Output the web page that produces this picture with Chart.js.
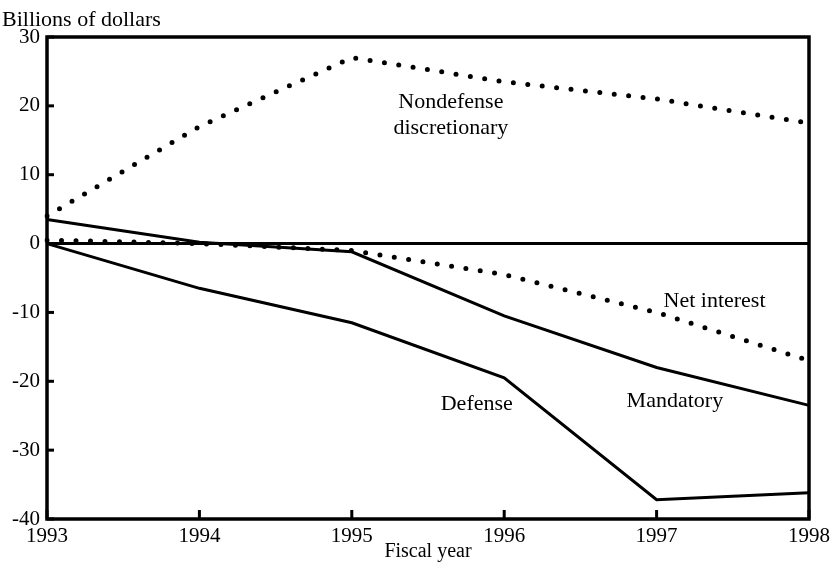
<!DOCTYPE html>
<html>
<head>
<meta charset="utf-8">
<script src="https://cdn.jsdelivr.net/npm/chart.js@4.4.1/dist/chart.umd.min.js"></script>
<style>
  html, body { margin: 0; padding: 0; background: #fff; }
  #wrap { width: 835px; height: 564px; }
</style>
</head>
<body>
<div id="wrap"><canvas id="chart" width="835" height="564"></canvas></div>
<script>
// Changes by category, billions of dollars
// =============================================================

const years = ['1993', '1994', '1995', '1996', '1997', '1998']
const yTicks = [30, 20, 10, 0, -10, -20, -30, -40]

const nondefense = [4, 17, 27, 23.5, 21, 17.5]
const netInterest = [0.5, 0, -1, -4.5, -10, -17]
const mandatory = [3.5, 0.2, -1.2, -10.5, -18, -23.5]
const defense = [0, -6.5, -11.5, -19.5, -37.2, -36.2]

// text notes, placed in data units (x = index of year)
const notes = [
  { text: 'Nondefense', x: 2.65, y: 20.6 },
  { text: 'discretionary', x: 2.65, y: 16.8 },
  { text: 'Net interest', x: 4.38, y: -8.4 },
  { text: 'Mandatory', x: 4.12, y: -22.9 },
  { text: 'Defense', x: 2.82, y: -23.4 }
]

const serif = '"Liberation Serif", "Times New Roman", serif'

// frame, tick marks, notes and axis unit label
const framePlugin = {
  id: 'frame',
  afterDatasetsDraw (chart) {
    const { ctx, chartArea: a, scales: { x, y } } = chart
    ctx.save()
    ctx.strokeStyle = '#000'
    ctx.lineWidth = 3.5
    ctx.strokeRect(a.left, a.top, a.right - a.left, a.bottom - a.top)

    ctx.lineWidth = 3
    yTicks.forEach(v => {
      const py = y.getPixelForValue(v)
      ctx.beginPath()
      ctx.moveTo(a.left, py)
      ctx.lineTo(a.left + 7, py)
      ctx.stroke()
    })
    years.forEach((v, i) => {
      const px = x.getPixelForValue(i)
      ctx.beginPath()
      ctx.moveTo(px, a.bottom)
      ctx.lineTo(px, a.bottom - 9)
      ctx.stroke()
    })

    ctx.fillStyle = '#000'
    ctx.font = '22px ' + serif
    ctx.textAlign = 'center'
    ctx.textBaseline = 'middle'
    notes.forEach(n => {
      ctx.fillText(n.text, x.getPixelForValue(n.x), y.getPixelForValue(n.y))
    })

    ctx.textAlign = 'left'
    ctx.fillText('Billions of dollars', 2, 20)
    ctx.restore()
  }
}

const dotted = {
  borderDash: [0, 14.5],
  borderCapStyle: 'round',
  borderWidth: 5
}

const data = {
  type: 'line',
  data: {
    labels: years,
    datasets: [
      Object.assign({ label: 'Nondefense discretionary', data: nondefense }, dotted),
      Object.assign({ label: 'Net interest', data: netInterest }, dotted),
      { label: 'Mandatory', data: mandatory, borderWidth: 3 },
      { label: 'Defense', data: defense, borderWidth: 3 }
    ]
  },
  options: {
    responsive: false,
    animation: false,
    layout: { padding: { top: 37, right: 24, left: 0, bottom: 0 } },
    elements: {
      line: { tension: 0, borderColor: '#000', fill: false },
      point: { radius: 0 }
    },
    plugins: {
      legend: { display: false },
      tooltip: { enabled: false }
    },
    scales: {
      x: {
        offset: false,
        grid: { display: false, drawTicks: false },
        border: { display: false },
        ticks: {
          color: '#000',
          font: { family: serif, size: 21 },
          padding: 5,
          maxRotation: 0
        },
        title: {
          display: true,
          text: 'Fiscal year',
          color: '#000',
          font: { family: serif, size: 20 },
          padding: { top: -7, bottom: 0 }
        },
        afterFit (scale) { scale.height = 45 }
      },
      y: {
        min: -40,
        max: 30,
        grid: {
          drawTicks: false,
          color: ctx => (ctx.tick && ctx.tick.value === 0 ? '#000' : 'rgba(0,0,0,0)'),
          lineWidth: 3
        },
        border: { display: false },
        ticks: {
          stepSize: 10,
          color: '#000',
          font: { family: serif, size: 21 },
          padding: 7
        },
        afterFit (scale) { scale.width = 47 }
      }
    }
  },
  plugins: [framePlugin]
}

const chart = new Chart(document.getElementById('chart'), data)
</script>
</body>
</html>
